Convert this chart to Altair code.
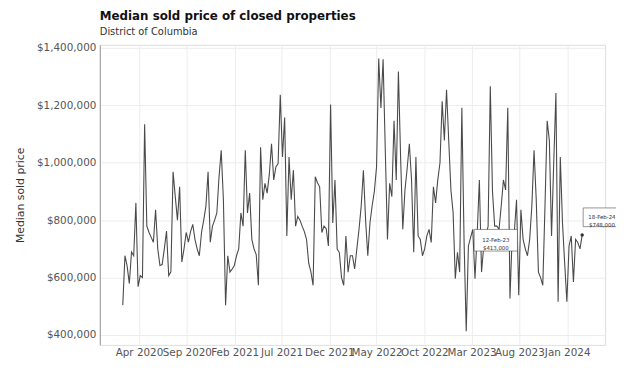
import altair as alt
import pandas as pd

# Weekly median sold price (thousands of $)
values_k = [
    504, 676, 640, 579, 689, 676, 860, 568, 607, 600,
    1134, 779, 757, 740, 723, 836, 700, 642, 645, 700,
    762, 607, 620, 968, 882, 800, 916, 654, 700, 757,
    723, 760, 785, 733, 700, 676, 757, 800, 848, 968,
    723, 779, 800, 825, 950, 1043, 871, 504, 676, 619,
    630, 642, 676, 700, 825, 779, 1043, 825, 894, 733,
    700, 680, 573, 1054, 871, 928, 894, 960, 1066, 940,
    985, 997, 1237, 1020, 1157, 745, 1020, 871, 974, 779,
    813, 800, 779, 760, 733, 650, 620, 573, 951, 930,
    916, 757, 779, 770, 710, 1203, 790, 940, 699, 687,
    600, 573, 745, 619, 676, 676, 630, 700, 768, 850,
    974, 800, 676, 791, 850, 900, 985, 1363, 1191, 1360,
    1043, 733, 928, 882, 1146, 940, 1318, 1020, 768, 905,
    980, 1066, 940, 688, 1020, 745, 733, 676, 700, 745,
    768, 722, 916, 860, 940, 1000, 1214, 1077, 1254, 1077,
    905, 826, 596, 688, 619, 1191, 733, 413, 710, 740,
    768, 596, 750, 940, 619, 710, 745, 779, 1266, 900,
    779, 779, 768, 850, 940, 905, 1191, 527, 745, 760,
    871, 538, 836, 733, 700, 676, 733, 850, 1043, 871,
    619, 600, 573, 848, 1146, 1077, 745, 1000, 1243, 516,
    1020, 791, 650, 516, 710, 745, 585, 733, 722, 700,
    748,
]
start_date = "2020-02-09"
tick_dates = ["2020-04-01", "2020-09-01", "2021-02-01", "2021-07-01", "2021-12-01",
              "2022-05-01", "2022-10-01", "2023-03-01", "2023-08-01", "2024-01-01"]
y_ticks = [400000, 600000, 800000, 1000000, 1200000, 1400000]

weeks = pd.date_range(start_date, periods=len(values_k), freq="7D")
prices = [v * 1000 for v in values_k]
df = pd.DataFrame({"date": weeks.strftime("%Y-%m-%dT00:00:00"), "price": prices})


def dt(ts):
    return alt.DateTime(year=int(ts.year), month=int(ts.month), date=int(ts.day),
                        hours=int(ts.hour))


span = weeks[-1] - weeks[0]
x_lo = weeks[0] - span * 0.05
x_hi = weeks[-1] + span * 0.05
pmin, pmax = min(prices), max(prices)
y_lo = pmin - 0.05 * (pmax - pmin)
y_hi = pmax + 0.05 * (pmax - pmin)

i_min = prices.index(pmin)
min_df = pd.DataFrame({"date": [df["date"][i_min]], "price": [730000],
                       "label": [weeks[i_min].strftime("%d-%b-%y") + "\n" + f"${pmin:,.0f}"]})
last_df = pd.DataFrame({"date": [df["date"].iloc[-1]], "price": [prices[-1]],
                        "label": [weeks[-1].strftime("%d-%b-%y") + "\n" + f"${prices[-1]:,.0f}"]})

FONT = "DejaVu Sans"
x_enc = alt.X("date:T", scale=alt.Scale(domain=[dt(x_lo), dt(x_hi)]),
              axis=alt.Axis(values=[dt(pd.Timestamp(d)) for d in tick_dates], format="%b %Y",
                            labelOverlap=False, title=None, domain=False, ticks=False,
                            labelFontSize=10.5, labelColor="#555555", labelPadding=3,
                            gridColor="#ededed", labelFont=FONT))
y_enc = alt.Y("price:Q", scale=alt.Scale(domain=[y_lo, y_hi], nice=False, zero=False),
              axis=alt.Axis(values=y_ticks, format="$,.0f", title="Median sold price",
                            titleFontSize=11, titleFontWeight="normal", titleColor="#333333",
                            titlePadding=11, labelFontSize=10.5, labelColor="#555555",
                            labelPadding=4, ticks=False, domain=True, domainColor="#9a9a9a",
                            gridColor="#ededed", labelFont=FONT, titleFont=FONT))

line = alt.Chart(df).mark_line(color="#4a4a4a", strokeWidth=1.1).encode(x=x_enc, y=y_enc)

box_shape = "M-2,-1H2V1H-2Z"
min_box = alt.Chart(min_df).mark_point(shape=box_shape, size=480, filled=True, fill="white",
                                       stroke="#4d4d4d", strokeWidth=0.6, opacity=1,
                                       xOffset=30).encode(x="date:T", y="price:Q")
min_txt = alt.Chart(min_df).mark_text(fontSize=5.5, font=FONT, color="#333333", dx=30,
                                      lineHeight=8, lineBreak="\n", baseline="middle").encode(
    x="date:T", y="price:Q", text="label:N")
last_pt = alt.Chart(last_df).mark_circle(size=12, color="#333333", opacity=1).encode(
    x="date:T", y="price:Q")
last_box = alt.Chart(last_df).mark_point(shape=box_shape, size=360, filled=True, fill="white",
                                         stroke="#4d4d4d", strokeWidth=0.6, opacity=1,
                                         xOffset=20, yOffset=-18).encode(x="date:T", y="price:Q")
last_txt = alt.Chart(last_df).mark_text(fontSize=5.5, font=FONT, color="#333333", dx=20, dy=-18,
                                        lineHeight=8, lineBreak="\n", baseline="middle").encode(
    x="date:T", y="price:Q", text="label:N")

chart = alt.layer(line, last_pt, min_box, min_txt, last_box, last_txt).properties(
    width=512, height=304,
    title=alt.TitleParams("Median sold price of closed properties", subtitle="District of Columbia",
                          anchor="start", frame="group", font=FONT, fontSize=12, fontWeight="bold",
                          color="#111111", subtitleFont=FONT, subtitleFontSize=10,
                          subtitleColor="#333333", subtitlePadding=4, offset=5),
    autosize=alt.AutoSizeParams(type="none"),
    padding={"left": 93, "top": 35, "right": 11, "bottom": 13},
).configure_view(stroke=None).configure(background="white")

chart.save("out.html", embed_options={"renderer": "svg", "actions": False})
